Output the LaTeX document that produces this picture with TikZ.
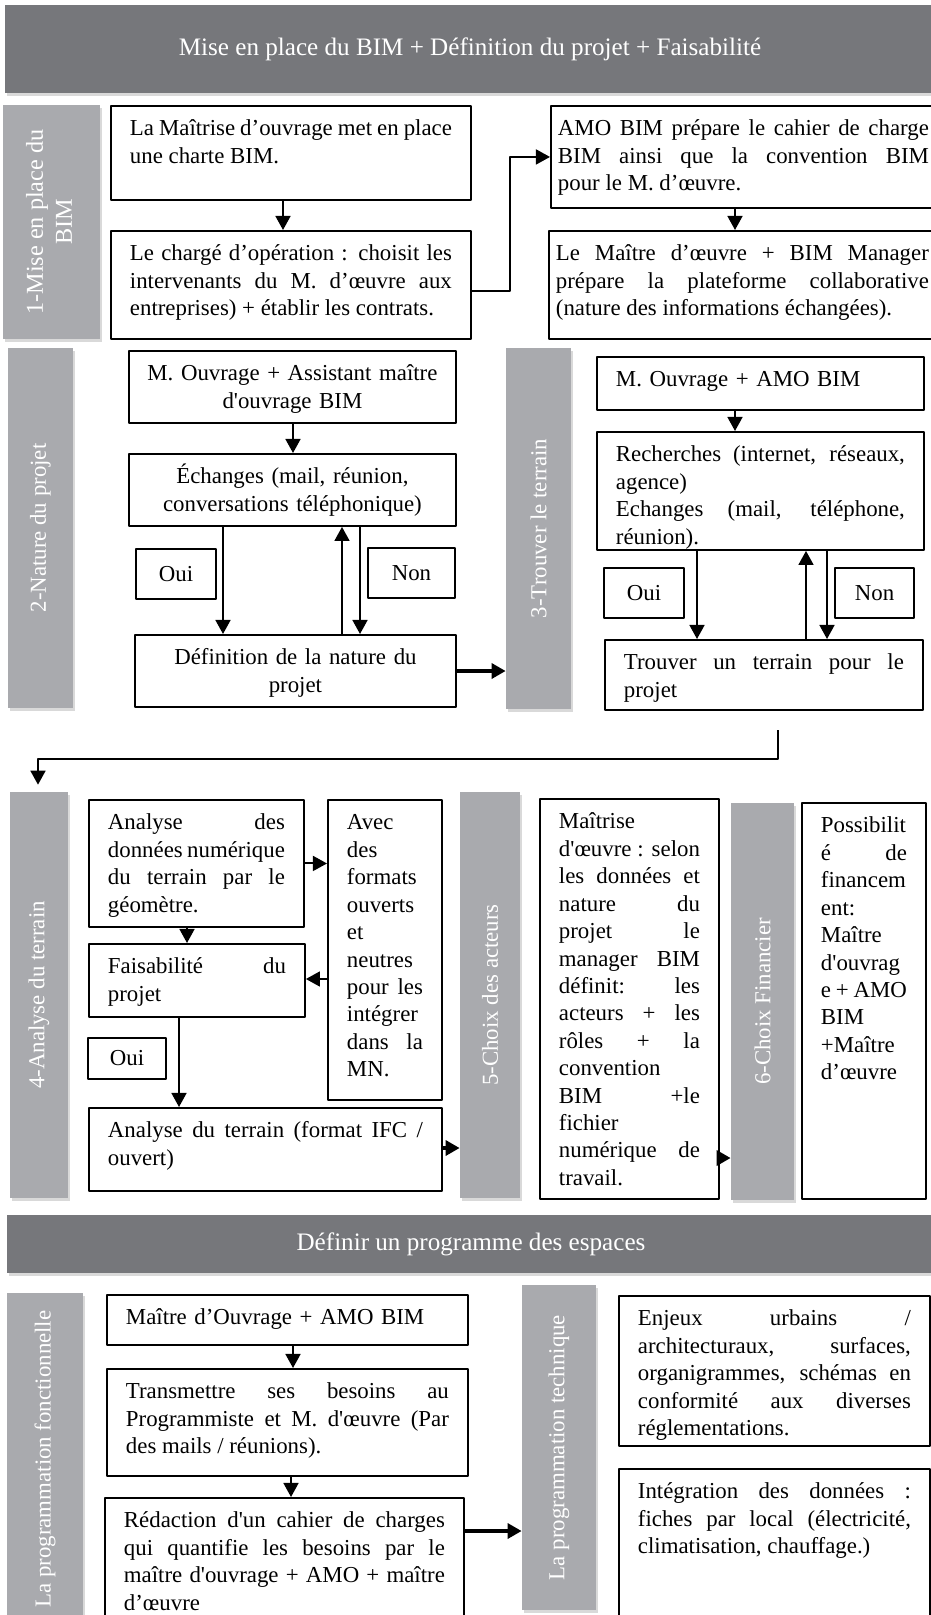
\documentclass[tikz,border=0pt]{standalone}
\usepackage{fontspec}
\setmainfont{Liberation Serif}[Ligatures=TeXOff]
\usetikzlibrary{arrows.meta,shadows}
\definecolor{bandgray}{RGB}{118,119,123}
\definecolor{bargray}{RGB}{169,170,174}
\hbadness=10000
\hfuzz=3pt
\begin{document}
\begin{tikzpicture}[x=0.02cm, y=-0.02cm, font=\fontsize{13}{15.6}\selectfont, line join=round, >={Triangle[width=8.5pt,length=8pt]},
  band/.style={fill=bandgray, text=white, inner sep=0pt, font=\fontsize{14.3}{17}\selectfont, drop shadow={opacity=.3, shadow xshift=.03cm, shadow yshift=-.06cm}},
  bar/.style={fill=bargray, text=white, inner sep=0pt, drop shadow={opacity=.3, shadow xshift=.04cm, shadow yshift=-.06cm}},
  box/.style={draw, line width=1.1pt, anchor=north west, inner xsep=.38cm, inner ysep=0pt, text height=.6cm, align=justify},
  yesno/.style={draw, line width=1.1pt, inner sep=0pt},
  arr/.style={->, line width=1.1pt},
  bigarr/.style={->, line width=2.3pt}]
\useasboundingbox (0,0) rectangle (930,1615);

\node[band, minimum width=18.6cm, minimum height=1.76cm] (T1) at (470,49) {Mise en place du BIM + Définition du projet + Faisabilité};
\node[band, minimum width=18.56cm, minimum height=1.16cm] (T2) at (471,1244) {Définir un programme des espaces};

\node[bar, minimum width=1.94cm, minimum height=4.68cm, font=\fontsize{13.8}{16.5}\selectfont] (S1) at (51.5,222) {\rotatebox{90}{\begin{tabular}{@{}c@{}}1-Mise en place du\\BIM\end{tabular}}};
\node[bar, minimum width=1.3cm, minimum height=7.2cm] (S2) at (40.5,528) {\rotatebox{90}{2-Nature du projet}};
\node[bar, minimum width=1.3cm, minimum height=7.22cm] (S3) at (538.5,528.5) {\rotatebox{90}{3-Trouver le terrain}};
\node[bar, minimum width=1.16cm, minimum height=8.12cm] (S4) at (39,995) {\rotatebox{90}{4-Analyse du terrain}};
\node[bar, minimum width=1.2cm, minimum height=8.12cm] (S5) at (490,995) {\rotatebox{90}{5-Choix des acteurs}};
\node[bar, minimum width=1.26cm, minimum height=7.94cm] (S6) at (762.5,1001.5) {\rotatebox{90}{6-Choix Financier}};
\node[bar, minimum width=1.52cm, minimum height=6.64cm] (S7) at (45,1459) {\rotatebox{90}{La programmation fonctionnelle}};
\node[bar, minimum width=1.48cm, minimum height=6.5cm] (S8) at (559,1447.5) {\rotatebox{90}{La programmation technique}};

\node[box, text width=6.44cm, text depth=1.28cm] (A1) at (110,105) {La Maîtrise d’ouvrage met en place\linebreak une charte BIM.};
\node[box, text width=6.44cm, text depth=1.56cm] (A2) at (110,230) {Le chargé d’opération : choisit les\linebreak intervenants du M. d’œuvre aux\linebreak entreprises) + établir les contrats.};
\node[box, inner xsep=.14cm, text width=7.42cm, text depth=1.44cm] (B1) at (550,105) {AMO BIM prépare le cahier de charge\linebreak BIM ainsi que la convention BIM\linebreak pour le M. d’œuvre.};
\node[box, inner xsep=.14cm, text width=7.46cm, text depth=1.56cm] (B2) at (548,230) {Le Maître d’œuvre + BIM Manager\linebreak prépare la plateforme collaborative\linebreak (nature des informations échangées).};

\node[box, align=center, inner xsep=.2cm, text width=6.14cm, text depth=.84cm] (C1) at (128,350) {M. Ouvrage + Assistant maître\\d'ouvrage BIM};
\node[box, align=center, inner xsep=.2cm, text width=6.14cm, text depth=.84cm] (C2) at (128,453) {Échanges (mail, réunion,\\conversations téléphonique)};
\node[yesno, minimum width=1.6cm, minimum height=1cm] (oui1) at (176,574) {Oui};
\node[yesno, minimum width=1.74cm, minimum height=1cm] (non1) at (411.5,573) {Non};
\node[box, align=center, inner xsep=.2cm, text width=6.02cm, text depth=.84cm] (C3) at (134,634) {Définition de la nature du\\projet};

\node[box, align=left, text width=5.78cm, text depth=.46cm] (D1) at (596,356) {M. Ouvrage + AMO BIM};
\node[box, text width=5.78cm, text depth=1.76cm] (D2) at (596,431) {Recherches (internet, réseaux,\linebreak agence)\\Echanges (mail, téléphone,\linebreak réunion).};
\node[yesno, minimum width=1.6cm, minimum height=1cm] (oui2) at (644,593) {Oui};
\node[yesno, minimum width=1.58cm, minimum height=1cm] (non2) at (874.5,593) {Non};
\node[box, text width=5.6cm, text depth=.8cm] (D3) at (604,639) {Trouver un terrain pour le\linebreak projet};

\node[box, text width=3.54cm, text depth=1.94cm] (E1) at (88,799) {Analyse des\linebreak données numérique\linebreak du terrain par le\linebreak géomètre.};
\node[box, text width=1.52cm, text depth=5.4cm] (E2) at (327,799) {Avec\linebreak des\linebreak formats\linebreak ouverts\linebreak et\linebreak neutres\linebreak pour les\linebreak intégrer\linebreak dans la\linebreak MN.};
\node[box, text width=3.56cm, text depth=.86cm] (E3) at (88,943) {Faisabilité du\linebreak projet};
\node[yesno, minimum width=1.56cm, minimum height=.82cm] (oui3) at (127,1058.5) {Oui};
\node[box, text width=6.3cm, text depth=1.06cm] (E5) at (88,1107) {Analyse du terrain (format IFC /\linebreak ouvert)};

\node[box, text width=2.82cm, text depth=7.4cm] (F1) at (539,798) {Maîtrise\linebreak d'œuvre : selon\linebreak les données et\linebreak nature du\linebreak projet le\linebreak manager BIM\linebreak définit: les\linebreak acteurs + les\linebreak rôles + la\linebreak convention\linebreak BIM +le\linebreak fichier\linebreak numérique de\linebreak travail.};
\node[box, text width=1.72cm, text depth=7.32cm] (G1) at (801,802) {Possibilit\linebreak é de\linebreak financem\linebreak ent:\linebreak Maître\linebreak d'ouvrag\linebreak e + AMO\linebreak BIM\linebreak +Maître\linebreak d’œuvre};

\node[box, align=left, text width=6.46cm, text depth=.4cm] (H1) at (106,1294) {Maître d’Ouvrage + AMO BIM};
\node[box, text width=6.46cm, text depth=1.54cm] (H2) at (106,1368) {Transmettre ses besoins au\linebreak Programmiste et M. d'œuvre (Par\linebreak des mails / réunions).};
\node[box, text width=6.42cm, text depth=1.9cm] (H3) at (104,1497) {Rédaction d'un cahier de charges\linebreak qui quantifie les besoins par le\linebreak maître d'ouvrage + AMO + maître\linebreak d’œuvre};
\node[box, text width=5.46cm, text depth=2.4cm] (I1) at (618,1295) {Enjeux urbains /\linebreak architecturaux, surfaces,\linebreak organigrammes, schémas en\linebreak conformité aux diverses\linebreak réglementations.};
\node[box, text width=5.46cm, text depth=2.5cm] (I2) at (618,1468) {Intégration des données :\linebreak fiches par local (électricité,\linebreak climatisation, chauffage.)};

\foreach \from/\to/\x in {A1/A2/283,B1/B2/735,C1/C2/293,C2/C3/223,C2/C3/360,D1/D2/735,D2/D3/697,D2/D3/827,E1/E3/187,E3/E5/179,H1/H2/293,H2/H3/291}
\draw[arr]
(\from.south -| \x,0)--(\to.north -| \x,0)
;
\foreach \from/\to/\x in {C3/C2/342,D3/D2/806}
\draw[arr]
(\from.north -| \x,0)--(\to.south -| \x,0)
;
\foreach \from/\to/\y in {C3/S3/671,E5/S5/1148,F1/S6/1158,H3/S8/1531}
\draw[bigarr]
(\from.east |- 0,\y)--(\to.west |- 0,\y)
;
\draw[arr] (A2.east |- 0,291) -- ++(38,0) |- (B1.west);
\draw[arr] (E1.east) -- (E2.west |- E1.east);
\draw[arr] (E2.west |- 0,979) -- (E3.east |- 0,979);
\coordinate (gap) at (778,730);
\draw[arr, shorten >=.14cm] (gap) |- (38,759) -- (S4.north -| 38,0);
\end{tikzpicture}
\end{document}
